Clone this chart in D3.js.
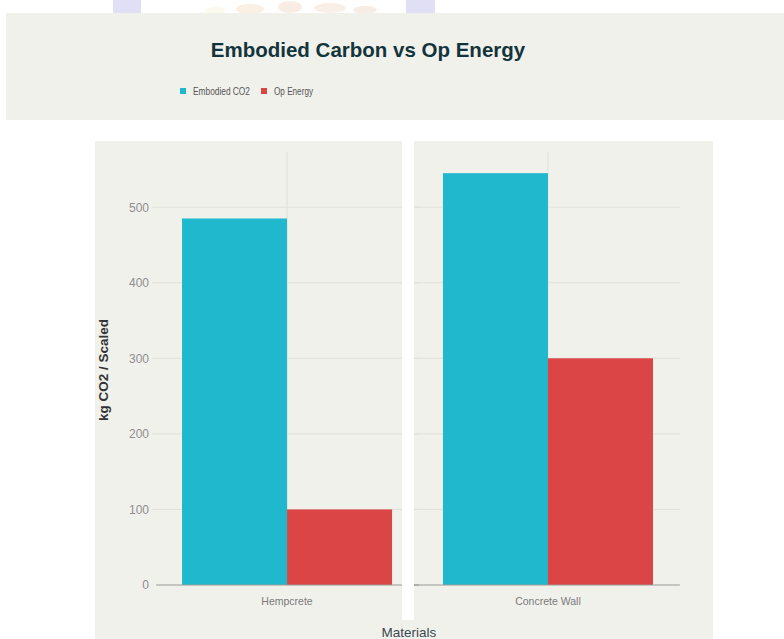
<!DOCTYPE html>
<html>
<head>
<meta charset="utf-8">
<script src="https://cdn.jsdelivr.net/npm/d3@7"></script>
<style>
  html, body { margin: 0; padding: 0; background: #ffffff; }
  svg { display: block; }
</style>
</head>
<body>
<svg id="chart" width="784" height="639"></svg>
<script>
// ---- data ----
const categories = ["Hempcrete", "Concrete Wall"];
const seriesNames = ["Embodied CO2", "Op Energy"];
const embodiedCO2 = [485, 545];
const opEnergy = [100, 300];
const yTicks = [0, 100, 200, 300, 400, 500];
const titleText = "Embodied Carbon vs Op Energy";
const yAxisTitle = "kg CO2 / Scaled";
const xAxisTitle = "Materials";

const colors = ["#1FB8CD", "#DB4545"];
const panelBg = "#f1f1ec";
const font = "'Liberation Sans', Arial, sans-serif";

const svg = d3.select("#chart");

// decorative strip at very top (partial background image)
svg.append("rect").attr("x", 113).attr("y", 0).attr("width", 28).attr("height", 13).attr("fill", "#e0dff5");
svg.append("rect").attr("x", 406).attr("y", 0).attr("width", 29).attr("height", 13).attr("fill", "#e0dff5");
const deco = svg.append("g").attr("opacity", 0.18);
[[250, 9, 14, 5, "#e8a868"], [290, 7, 12, 6, "#d99a70"], [330, 8, 16, 5, "#e3ad7a"], [365, 10, 12, 4, "#dca070"], [215, 11, 10, 4, "#f3e2a0"]]
  .forEach(d => deco.append("ellipse").attr("cx", d[0]).attr("cy", d[1]).attr("rx", d[2]).attr("ry", d[3]).attr("fill", d[4]));

// header panel
svg.append("rect").attr("x", 6).attr("y", 13).attr("width", 778).attr("height", 107).attr("fill", panelBg);
svg.append("text").attr("x", 368).attr("y", 57).attr("text-anchor", "middle")
  .attr("font-family", font).attr("font-size", 20.5).attr("font-weight", "bold")
  .attr("fill", "#13343B").text(titleText);

// legend
const legendItems = [{x: 180, tx: 193, w: 57}, {x: 261, tx: 274, w: 39}];
const lg = svg.append("g");
seriesNames.forEach((s, i) => {
  lg.append("rect").attr("x", legendItems[i].x).attr("y", 88).attr("width", 6).attr("height", 6).attr("fill", colors[i]);
  lg.append("text").attr("x", legendItems[i].tx).attr("y", 94.5)
    .attr("font-family", font).attr("font-size", 10).attr("fill", "#555")
    .attr("textLength", legendItems[i].w).attr("lengthAdjust", "spacingAndGlyphs").text(s);
});

// chart panel
svg.append("rect").attr("x", 95).attr("y", 141).attr("width", 618).attr("height", 498).attr("fill", panelBg);

// scales
const y = d3.scaleLinear().domain([0, 573]).range([585, 152]);
const x0 = d3.scaleBand().domain(categories).range([152, 683]).paddingInner(0.195).paddingOuter(0.115);
const x1 = d3.scaleBand().domain(seriesNames).range([0, x0.bandwidth()]).padding(0);
const half = x0.step() * 0.517;
const facetExtent = c => [x0(c) + x0.bandwidth() / 2 - half, x0(c) + x0.bandwidth() / 2 + half];

const g = svg.append("g");
categories.forEach((c, ci) => {
  const [fx0, fx1] = facetExtent(c);
  g.selectAll(null).data(yTicks.filter(t => t > 0)).enter().append("line")
    .attr("x1", fx0).attr("x2", fx1 - 3).attr("y1", d => y(d)).attr("y2", d => y(d))
    .attr("stroke", "#e1e1db").attr("stroke-width", 1);
  const cx = x0(c) + x0.bandwidth() / 2;
  g.append("line").attr("x1", cx).attr("x2", cx).attr("y1", y.range()[1]).attr("y2", y(0))
    .attr("stroke", "#e1e1db").attr("stroke-width", 1);
});

// bars
const values = [embodiedCO2, opEnergy];
categories.forEach((c, ci) => {
  seriesNames.forEach((s, si) => {
    g.append("rect")
      .attr("x", x0(c) + x1(s)).attr("width", x1.bandwidth())
      .attr("y", y(values[si][ci])).attr("height", y(0) - y(values[si][ci]))
      .attr("fill", colors[si]);
  });
});

// baselines + category labels
categories.forEach((c, ci) => {
  const [fx0, fx1] = facetExtent(c);
  g.append("line").attr("x1", ci === 0 ? fx0 + 4 : fx0).attr("x2", fx1 - 3).attr("y1", y(0)).attr("y2", y(0))
    .attr("stroke", "#9a9a96").attr("stroke-width", 1.2);
  g.append("text").attr("x", x0(c) + x0.bandwidth() / 2).attr("y", 605).attr("text-anchor", "middle")
    .attr("font-family", font).attr("font-size", 10.5).attr("fill", "#7a7a7a").text(c);
});

// y axis (left facet only)
const yAxis = d3.axisLeft(y).tickValues(yTicks).tickSize(0).tickPadding(0);
const ya = svg.append("g").attr("transform", "translate(149,0)").call(yAxis);
ya.select(".domain").remove();
ya.selectAll("text").attr("font-family", font).attr("font-size", 12).attr("fill", "#8e8e8e");

// white gap between facets
svg.append("rect").attr("x", 402).attr("y", 141).attr("width", 12).attr("height", 479).attr("fill", "#ffffff");

// axis titles
svg.append("text").attr("transform", "translate(108,370) rotate(-90)").attr("text-anchor", "middle")
  .attr("font-family", font).attr("font-size", 13.5).attr("font-weight", 600).attr("fill", "#333")
  .text(yAxisTitle);
svg.append("text").attr("x", 409).attr("y", 637).attr("text-anchor", "middle")
  .attr("font-family", font).attr("font-size", 13.5).attr("fill", "#3a4a50").text(xAxisTitle);
</script>
</body>
</html>
